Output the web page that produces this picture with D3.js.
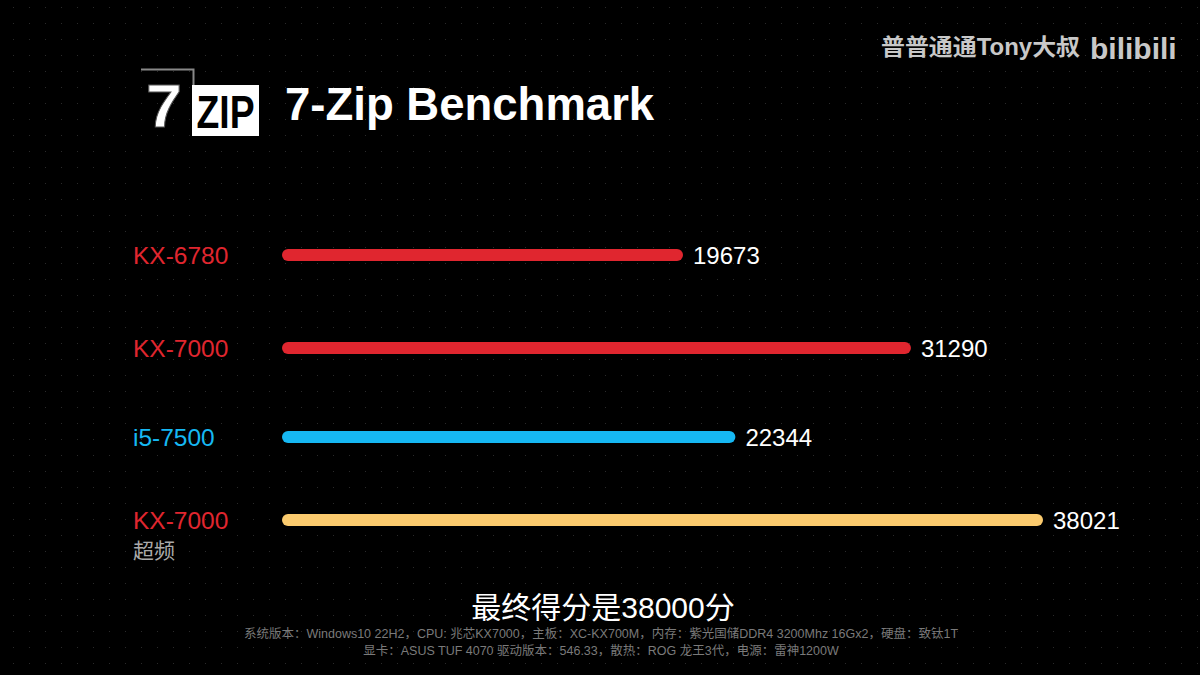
<!DOCTYPE html>
<html>
<head>
<meta charset="utf-8">
<script src="https://cdn.jsdelivr.net/npm/d3@7"></script>
<style>
  html, body { margin: 0; padding: 0; background: #000; }
  svg { display: block; }
</style>
</head>
<body>
<div id="chart"></div>
<script>
// chart data
const cpuNames = ["KX-6780", "KX-7000", "i5-7500", "KX-7000"];
const cpuNotes = ["", "", "", "超频"];
const scores = [19673, 31290, 22344, 38021];
const barColors = ["#e0262f", "#e0262f", "#16b8f3", "#fbcb6e"];
const labelColors = ["#e0262f", "#e0262f", "#16b8f3", "#e0262f"];

const titleText = "7-Zip Benchmark";
const summaryText = "最终得分是38000分";
const specLines = [
  "系统版本：Windows10 22H2，CPU: 兆芯KX7000，主板：XC-KX700M，内存：紫光国储DDR4 3200Mhz 16Gx2，硬盘：致钛1T",
  "显卡：ASUS TUF 4070 驱动版本：546.33，散热：ROG 龙王3代，电源：雷神1200W"
];
const authorText = "普普通通Tony大叔";

const W = 1200, H = 675;
const font = "'Liberation Sans', Arial, 'Noto Sans CJK SC', sans-serif";

const svg = d3.select('#chart')
  .append('svg')
  .attr('width', W)
  .attr('height', H)
  .style('background', '#000');

// faint dot grid in the background
const dots = svg.append('g');
for (let x = 13; x < W; x += 16) {
  for (let y = 7; y < H; y += 16) {
    dots.append('rect')
      .attr('x', x).attr('y', y)
      .attr('width', 1).attr('height', 1)
      .attr('fill', '#2a2a2a');
  }
}

// watermark top right
svg.append('text')
  .attr('x', 881).attr('y', 55)
  .attr('textLength', 199)
  .attr('lengthAdjust', 'spacingAndGlyphs')
  .text(authorText)
  .style('font-family', font)
  .style('font-size', '23px')
  .style('font-weight', 'bold')
  .style('fill', '#c8c8c8');

svg.append('text')
  .attr('x', 1090).attr('y', 59)
  .text('bilibili')
  .style('font-family', "'Liberation Sans', sans-serif")
  .style('font-size', '30px')
  .style('font-weight', 'bold')
  .style('fill', '#c8c8c8');

// 7zip logo
const logo = svg.append('g');
logo.append('path')
  .attr('d', 'M141,69.5 H193.5 V86')
  .attr('fill', 'none')
  .attr('stroke', '#888')
  .attr('stroke-width', 2);
logo.append('text')
  .attr('x', 146).attr('y', 127)
  .attr('textLength', 36)
  .attr('lengthAdjust', 'spacingAndGlyphs')
  .text('7')
  .style('font-family', font)
  .style('font-size', '62px')
  .style('font-weight', 'bold')
  .style('fill', '#fff')
  .style('stroke', '#555')
  .style('stroke-width', 1);
logo.append('rect')
  .attr('x', 192).attr('y', 85)
  .attr('width', 67).attr('height', 51)
  .attr('fill', '#fff');
logo.append('text')
  .attr('x', 225.5).attr('y', 128)
  .attr('text-anchor', 'middle')
  .attr('textLength', 58)
  .attr('lengthAdjust', 'spacingAndGlyphs')
  .text('ZIP')
  .style('font-family', font)
  .style('font-size', '46px')
  .style('font-weight', 'bold')
  .style('fill', '#000');

// title
svg.append('text')
  .attr('x', 285).attr('y', 120)
  .text(titleText)
  .style('font-family', font)
  .style('font-size', '45.5px')
  .style('font-weight', 'bold')
  .style('fill', '#fff');

// scales: value zero sits at 297, bars all start a little left of it
const x = d3.scaleLinear()
  .domain([0, d3.max(scores)])
  .range([297, 1043]);
const barStart = 282;

const yCenters = [255, 348, 437, 520];
const y = d3.scaleOrdinal()
  .domain(d3.range(scores.length))
  .range(yCenters);

const rows = svg.append('g')
  .selectAll('g')
  .data(scores.map((s, i) => ({ i, score: s, name: cpuNames[i], note: cpuNotes[i] })))
  .join('g')
  .attr('transform', d => `translate(0, ${y(d.i)})`);

// bars as thick lines with round caps
rows.append('line')
  .attr('x1', barStart + 6)
  .attr('x2', d => x(d.score) - 6)
  .attr('y1', 0).attr('y2', 0)
  .attr('stroke', d => barColors[d.i])
  .attr('stroke-width', 12)
  .attr('stroke-linecap', 'round');

// value labels
rows.append('text')
  .attr('x', d => x(d.score) + 10)
  .attr('y', 9)
  .text(d => d.score)
  .style('font-family', font)
  .style('font-size', '24px')
  .style('fill', '#fff');

// cpu labels
rows.append('text')
  .attr('x', 133)
  .attr('y', 9)
  .text(d => d.name)
  .style('font-family', font)
  .style('font-size', '24.5px')
  .style('fill', d => labelColors[d.i]);

rows.filter(d => d.note)
  .append('text')
  .attr('x', 133)
  .attr('y', 38)
  .text(d => d.note)
  .style('font-family', font)
  .style('font-size', '21px')
  .style('fill', '#aaa');

// summary + footnote
svg.append('text')
  .attr('x', 603).attr('y', 618)
  .attr('text-anchor', 'middle')
  .text(summaryText)
  .style('font-family', font)
  .style('font-size', '30px')
  .style('fill', '#fff');

svg.selectAll('.spec')
  .data(specLines)
  .join('text')
  .attr('class', 'spec')
  .attr('x', 601)
  .attr('y', (d, i) => 638 + i * 17)
  .attr('text-anchor', 'middle')
  .text(d => d)
  .style('font-family', font)
  .style('font-size', '12.5px')
  .style('fill', '#7a7a7a');
</script>
</body>
</html>
